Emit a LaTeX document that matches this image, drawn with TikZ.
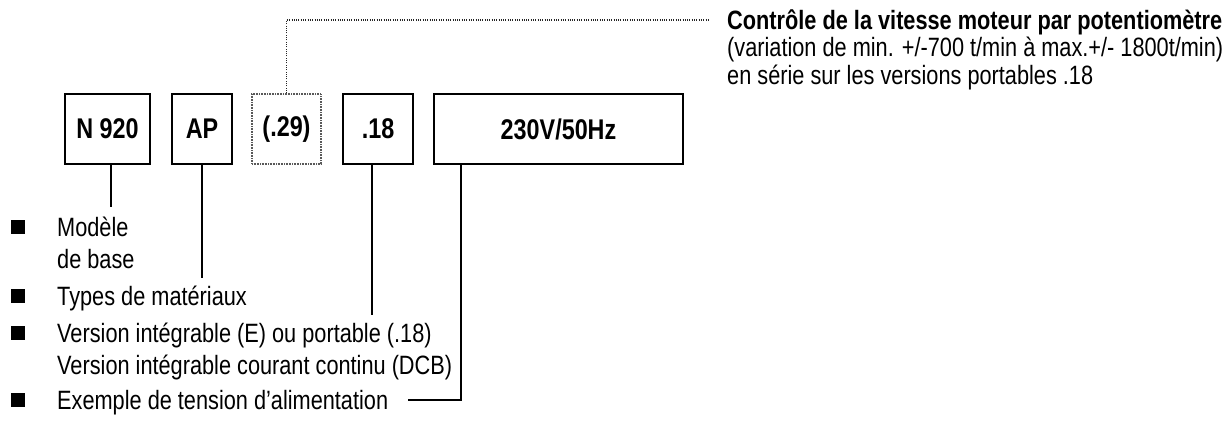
\documentclass[tikz,border=0pt]{standalone}
\usepackage{fontspec}
\setmainfont{Liberation Sans}[FakeStretch=0.82]
\begin{document}
\begin{tikzpicture}[x=1pt,y=-1pt,
  txt/.style={font=\fontsize{26.5}{30.5}\selectfont, inner sep=0pt, anchor=base west},
  boxlbl/.style={draw, line width=2pt, minimum height=70pt, inner sep=0pt,
     font=\fontsize{28.5}{32}\selectfont\bfseries},
  conn/.style={line width=2pt},
  dotline/.style={line width=1.1pt, black!85, dash pattern=on 1pt off 1.3pt},
  bullet/.style={fill=black, minimum size=14pt, inner sep=0pt}]
\useasboundingbox (0,0) rectangle (1231,421);
% boxes
\node[boxlbl, minimum width=85pt] (b1) at (107.5,129) {N 920};
\node[boxlbl, minimum width=60pt] (b2) at (202,129) {AP};
\node[boxlbl, minimum width=69pt, draw=black!65, line width=1.6pt,
      dash pattern=on 1pt off 0.6pt] (b3) at (286.5,129) {(.29)};
\node[boxlbl, minimum width=70pt] (b4) at (378,129) {.18};
\node[boxlbl, minimum width=249pt] (b5) at (558.5,129) {230V/50Hz};
% right annotation
\node[txt, font=\fontsize{26.5}{30.5}\selectfont\bfseries] (r1) at (727,29) {Contrôle de la vitesse moteur par potentiomètre};
\node[txt] (r2) at (727,56.5) {(variation de min. +/-700 t/min à max.+/- 1800t/min)};
\node[txt] (r3) at (727,84) {en série sur les versions portables .18};
\coordinate (dend) at (708,20);
\draw[dotline] (b3.north) |- (dend);
% bottom items
\node[bullet] (k1) at (17.5,227) {};
\node[txt] (t1a) at (57,236) {Modèle};
\node[txt] (t1b) at (57,268) {de base};
\node[bullet] (k2) at (17.5,296) {};
\node[txt] (t2) at (57,305) {Types de matériaux};
\node[bullet] (k3) at (17.5,333) {};
\node[txt] (t3a) at (57,342) {Version intégrable (E) ou portable (.18)};
\node[txt] (t3b) at (57,374) {Version intégrable courant continu (DCB)};
\node[bullet] (k4) at (17.5,400) {};
\node[txt] (t4) at (57,409) {Exemple de tension d’alimentation};
% connectors
\coordinate (c1) at (111,207);
\coordinate (c2) at (202,278);
\coordinate (c3) at (372,315);
\coordinate (c4) at (408,400);
\draw[conn] (b1.south -| c1) -- (c1);
\draw[conn] (b2.south -| c2) -- (c2);
\draw[conn] (b4.south -| c3) -- (c3);
\draw[conn] (b5.south -| 461,0) |- (c4);
\end{tikzpicture}
\end{document}
